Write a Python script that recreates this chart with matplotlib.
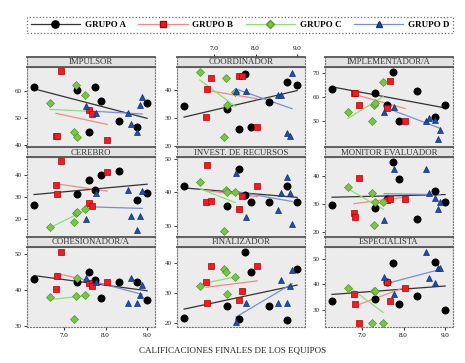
import numpy as np
import matplotlib
matplotlib.use("Agg")
import matplotlib.pyplot as plt
from matplotlib.lines import Line2D

plt.rcParams["font.family"] = "serif"
plt.rcParams["font.serif"] = ["Liberation Serif", "DejaVu Serif"]

# ===============================
# DATOS
# ===============================
roles = ["IMPULSOR", "COORDINADOR", "IMPLEMENTADOR/A",
         "CEREBRO", "INVEST. DE RECURSOS", "MONITOR EVALUADOR",
         "COHESIONADOR/A", "FINALIZADOR", "ESPECIALISTA"]

grupos = ["GRUPO A", "GRUPO B", "GRUPO C", "GRUPO D"]

# calificaciones finales de cada equipo (eje x)
x_a = [6.28, 7.31, 7.60, 7.75, 7.89, 8.33, 8.76, 9.00]
x_b = [6.81, 6.83, 6.93, 7.60, 7.67, 8.04]
x_c = [6.66, 7.24, 7.29, 7.31, 7.51]
x_d = [7.53, 7.77, 8.54, 8.61, 8.76, 8.83, 8.88]

# puntuacion por rol (mismo orden que roles)
y_a = [
    [61.5, 60.4, 44.8, 61.5, 56.3, 48.9, 46.7, 55.6],
    [34.3, 33.2, 26.1, 45.7, 26.8, 35.7, 42.9, 41.8],
    [63.3, 61.7, 56.7, 70.4, 50.0, 62.5, 51.7, 56.7],
    [26.4, 31.4, 37.7, 33.2, 40.0, 41.8, 28.6, 31.8],
    [41.9, 36.0, 47.0, 39.3, 37.2, 37.2, 41.9, 37.2],
    [29.6, 28.6, 31.8, 45.0, 38.9, 24.6, 34.6, 30.7],
    [43.1, 42.2, 45.0, 42.8, 37.8, 42.2, 42.2, 37.2],
    [21.7, 25.8, 21.4, 43.7, 36.9, 25.8, 21.0, 38.0],
    [33.6, 34.4, 40.8, 48.4, 32.4, 35.6, 48.8, 30.0],
]
y_b = [
    [43.3, 43.3, 67.4, 53.0, 51.5, 41.9],
    [30.4, 40.4, 44.3, 45.0, 45.0, 26.8],
    [61.7, 61.7, 56.7, 55.4, 66.7, 50.0],
    [35.5, 31.4, 46.4, 27.3, 25.9, 41.4],
    [37.2, 48.2, 37.5, 35.1, 39.0, 41.9],
    [26.8, 25.4, 39.3, 31.4, 31.8, 31.8],
    [40.3, 43.9, 50.6, 41.9, 41.1, 42.2],
    [33.6, 26.8, 39.0, 27.5, 30.8, 39.0],
    [36.4, 32.4, 24.8, 40.8, 33.6, 38.8],
]
y_c = [
    [55.6, 44.8, 62.2, 43.0, 58.5],
    [46.4, 23.2, 44.3, 34.6, 39.3],
    [53.8, 50.0, 56.7, 57.5, 66.3],
    [16.4, 18.6, 22.7, 23.2, 24.5],
    [43.1, 28.5, 40.7, 40.1, 40.1],
    [36.1, 33.9, 22.5, 30.7, 30.7],
    [38.1, 31.9, 38.3, 43.3, 38.6],
    [32.5, 38.0, 36.9, 29.8, 35.3],
    [38.8, 24.8, 37.6, 37.6, 24.8],
]
y_d = [
    [54.4, 51.9, 51.9, 47.8, 44.8, 54.8, 57.8],
    [39.6, 39.6, 38.2, 38.2, 24.6, 23.6, 46.1],
    [53.8, 55.8, 50.0, 51.3, 50.4, 42.5, 46.3],
    [20.0, 31.8, 33.2, 21.4, 15.0, 21.4, 32.7],
    [45.8, 32.7, 34.8, 39.9, 44.6, 39.9, 30.6],
    [24.3, 42.5, 42.5, 33.9, 32.1, 28.2, 30.7],
    [43.3, 42.2, 36.4, 43.3, 36.4, 38.6, 41.4],
    [20.3, 26.8, 26.8, 34.2, 26.8, 32.5, 37.6],
    [42.8, 36.4, 52.8, 42.4, 40.4, 46.4, 46.4],
]

y_ticks = [[40, 50, 60], [20, 30, 40], [50, 60, 70],
           [20, 30, 40], [30, 40, 50], [20, 30, 40],
           [30, 40, 50], [20, 30, 40], [30, 40, 50]]
x_ticks = [7.0, 8.0, 9.0]

# ===============================
# ESTILO
# ===============================
y_lims = [(39.3, 68.9), (19.6, 48.2), (39.2, 72.5),
          (11.8, 48.2), (26.7, 50.6), (18.2, 46.8),
          (29.8, 51.9), (18.6, 45.4), (23.2, 54.8)]
x_lim = (6.11, 9.19)

estilos = [
    dict(marker="o", mfc="black", mec="black", ms=5.2, line="#333333", ls="-"),
    dict(marker="s", mfc="#ee1c25", mec="#b00000", ms=4.2, line="#f08a8a", ls="-"),
    dict(marker="D", mfc="#7cc34a", mec="#4f9a2a", ms=3.8, line="#8fdc7a", ls="-"),
    dict(marker="^", mfc="#1f4fa8", mec="#10307a", ms=4.6, line="#7a8fd0", ls="-"),
]
xs_all = [x_a, x_b, x_c, x_d]
ys_all = [y_a, y_b, y_c, y_d]

W, H = 465, 363
fig = plt.figure(figsize=(W / 100, H / 100), dpi=100)

col_left = [27, 177, 325]
col_w = 128
row_top = [67, 157, 247]
row_h = 80
strip_h = 10
panel_bg = "#ececec"

for i, rol in enumerate(roles):
    r, c = divmod(i, 3)
    x0 = col_left[c] / W
    y0 = 1 - (row_top[r] + row_h) / H
    ax = fig.add_axes([x0, y0, col_w / W, row_h / H])
    sax = fig.add_axes([x0, 1 - row_top[r] / H, col_w / W, strip_h / H])

    ax.set_facecolor(panel_bg)
    for sp in ax.spines.values():
        sp.set_linestyle(":")
        sp.set_color("#777777")
        sp.set_linewidth(0.8)

    for g in range(4):
        st = estilos[g]
        xs = np.array(xs_all[g])
        ys = np.array(ys_all[g][i])
        b, a = np.polyfit(xs, ys, 1)
        xl = np.array([xs.min(), xs.max()])
        ax.plot(xl, a + b * xl, color=st["line"], lw=0.9, zorder=2)
        ax.plot(xs, ys, linestyle="none", marker=st["marker"],
                mfc=st["mfc"], mec=st["mec"], ms=st["ms"], mew=0.5, zorder=3)

    ax.set_xlim(*x_lim)
    ax.set_ylim(*y_lims[i])
    ax.set_yticks(y_ticks[i])
    ax.set_yticklabels([str(v) for v in y_ticks[i]])
    ax.tick_params(axis="y", labelsize=5, length=2.5, width=0.6, pad=1.5,
                   colors="#222222")
    ax.set_xticks(x_ticks)
    if r == 2 and c != 1:
        ax.set_xticklabels(["%.1f" % v for v in x_ticks])
        ax.tick_params(axis="x", labelsize=5, length=2.5, width=0.6, pad=2)
    else:
        ax.tick_params(axis="x", bottom=False, labelbottom=False)

    # strip con el nombre del rol
    sax.set_facecolor("#e2e2e2")
    sax.set_xlim(*x_lim)
    sax.set_yticks([])
    for k in ["left", "right"]:
        sax.spines[k].set_linestyle(":")
        sax.spines[k].set_color("#777777")
        sax.spines[k].set_linewidth(0.8)
    for k in ["top", "bottom"]:
        sax.spines[k].set_color("#555555")
        sax.spines[k].set_linewidth(1.3)
    sax.text(0.5, 0.45, rol, transform=sax.transAxes, ha="center", va="center",
             fontsize=6.3, color="#333333")
    if r == 0 and c == 1:
        sax.set_xticks(x_ticks)
        sax.set_xticklabels(["%.1f" % v for v in x_ticks])
        sax.tick_params(axis="x", top=True, labeltop=True, bottom=False,
                        labelbottom=False, labelsize=5, length=2.5, width=0.6, pad=2)
    else:
        sax.set_xticks([])

# leyenda
handles = []
for g in range(4):
    st = estilos[g]
    handles.append(Line2D([0], [0], color=st["line"], lw=0.9, marker=st["marker"],
                          mfc=st["mfc"], mec=st["mec"], ms=st["ms"]))
leg = fig.legend(handles, grupos, loc="center", ncol=4, mode="expand",
                 bbox_to_anchor=(27 / W, 1 - 35 / H, 426 / W, 20 / H),
                 handlelength=5.5, numpoints=1, fontsize=6.5, frameon=True,
                 fancybox=False, borderaxespad=0, handletextpad=0.5,
                 prop={"weight": "bold", "size": 6.5})
frame = leg.get_frame()
frame.set_linestyle(":")
frame.set_edgecolor("#444444")
frame.set_linewidth(0.9)
frame.set_facecolor("white")

fig.text(0.5, 1 - 351 / H, "CALIFICACIONES FINALES DE LOS EQUIPOS",
         ha="center", va="center", fontsize=6.5, color="#222222")

fig.savefig("out.png", dpi=100)
